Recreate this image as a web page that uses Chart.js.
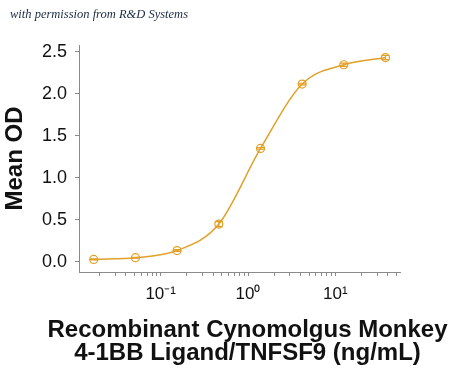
<!DOCTYPE html>
<html>
<head>
<meta charset="utf-8">
<script src="https://cdn.jsdelivr.net/npm/chart.js@4.4.0/dist/chart.umd.min.js"></script>
<style>
  html, body { margin: 0; padding: 0; background: #fff; }
  #wrap { position: relative; width: 450px; height: 373px; }
  #note { position: absolute; left: 10px; top: 7px; font-family: "Liberation Serif", "DejaVu Serif", serif; font-style: italic; font-size: 12.5px; color: #1c2a44; white-space: nowrap; }
</style>
</head>
<body>
<div id="wrap">
  <canvas id="c" width="450" height="373"></canvas>
  <div id="note">with permission from R&amp;D Systems</div>
</div>
<script>
// Concentrations (ng/mL)
const doses = [0.0171, 0.0514, 0.154, 0.463, 1.39, 4.17, 12.5, 37.5];
// Mean OD values
const meanOD = [0.03, 0.05, 0.135, 0.45, 1.35, 2.115, 2.345, 2.43];
// Error (half range) of each point
const errOD = [0.005, 0.005, 0.01, 0.03, 0.01, 0.01, 0.02, 0.025];
// Tick labels
const yTicks = [0.0, 0.5, 1.0, 1.5, 2.0, 2.5];
const xMajorLabels = {"0.1": "10\u207B\u00B9", "1": "10\u2070", "10": "10\u00B9"};
const xTitle = ["Recombinant Cynomolgus Monkey", "4-1BB Ligand/TNFSF9 (ng/mL)"];
const yTitle = "Mean OD";

const COLOR = "#E2A028";

const errorBars = {
  id: "errorBars",
  afterDatasetsDraw(chart) {
    const ctx = chart.ctx;
    const xs = chart.scales.x, ys = chart.scales.y;
    ctx.save();
    ctx.strokeStyle = COLOR;
    ctx.lineWidth = 1.2;
    doses.forEach((d, i) => {
      const x = xs.getPixelForValue(d);
      const y1 = ys.getPixelForValue(meanOD[i] + errOD[i]);
      const y2 = ys.getPixelForValue(meanOD[i] - errOD[i]);
      ctx.beginPath();
      ctx.moveTo(x, y1); ctx.lineTo(x, y2);
      ctx.moveTo(x - 4, y1); ctx.lineTo(x + 4, y1);
      ctx.moveTo(x - 4, y2); ctx.lineTo(x + 4, y2);
      ctx.stroke();
    });
    ctx.restore();
  }
};

// x-axis title drawn unclipped (Chart.js would squeeze it to the axis width)
const xTitlePlugin = {
  id: "xTitlePlugin",
  afterDraw(chart) {
    const ctx = chart.ctx;
    ctx.save();
    ctx.fillStyle = "#111";
    ctx.font = "bold 24px 'Liberation Sans', Arial, sans-serif";
    ctx.textAlign = "center";
    ctx.textBaseline = "middle";
    const cx = (chart.chartArea.left + chart.chartArea.right) / 2 + 8;
    xTitle.forEach((t, i) => ctx.fillText(t, cx, 330 + i * 23));
    ctx.restore();
  }
};

new Chart(document.getElementById("c"), {
  type: "line",
  data: {
    datasets: [{
      data: doses.map((d, i) => ({x: d, y: meanOD[i]})),
      borderColor: COLOR,
      borderWidth: 1.5,
      cubicInterpolationMode: "monotone",
      pointRadius: 4,
      pointBorderWidth: 1.2,
      pointBackgroundColor: "rgba(0,0,0,0)",
      pointBorderColor: COLOR,
      fill: false
    }]
  },
  options: {
    responsive: false,
    animation: false,
    events: [],
    layout: { padding: { top: 45, right: 50, left: 0, bottom: 0 } },
    plugins: { legend: { display: false }, tooltip: { enabled: false } },
    scales: {
      x: {
        type: "logarithmic",
        min: 0.0116,
        max: 55,
        afterFit(s) { s.height = 101; },
        afterBuildTicks(s) {
          s.ticks = s.ticks.filter(t => {
            const e = Math.floor(Math.log10(t.value) + 1e-9);
            const m = t.value / Math.pow(10, e);
            return Math.abs(m - Math.round(m)) < 1e-6 && t.value >= 0.02 && t.value <= 50;
          });
        },
        border: { display: true, color: "#8a8a8a", width: 1 },
        grid: { display: true, drawOnChartArea: false, drawTicks: true, tickLength: 4, color: "#8a8a8a" },
        ticks: {
          autoSkip: false,
          maxRotation: 0,
          padding: 8,
          color: "#111",
          font: { family: "Liberation Sans, Arial, sans-serif", size: 17 },
          callback(v) {
            const key = String(Math.round(v * 1000) / 1000);
            return xMajorLabels[key] || "";
          }
        },
        title: { display: false }
      },
      y: {
        min: -0.12,
        max: 2.58,
        afterFit(s) { s.width = 79; },
        afterBuildTicks(s) { s.ticks = yTicks.map(v => ({value: v})); },
        border: { display: true, color: "#8a8a8a", width: 1 },
        grid: { display: true, drawOnChartArea: false, drawTicks: true, tickLength: 4, color: "#8a8a8a" },
        ticks: {
          padding: 8,
          color: "#111",
          font: { family: "Liberation Sans, Arial, sans-serif", size: 18 },
          callback(v) { return Number(v).toFixed(1); }
        },
        title: {
          display: true,
          text: yTitle,
          color: "#111",
          font: { family: "Liberation Sans, Arial, sans-serif", size: 24, weight: "bold", lineHeight: 0.96 },
          padding: { top: 4, bottom: 0 }
        }
      }
    }
  },
  plugins: [errorBars, xTitlePlugin]
});
</script>
</body>
</html>
